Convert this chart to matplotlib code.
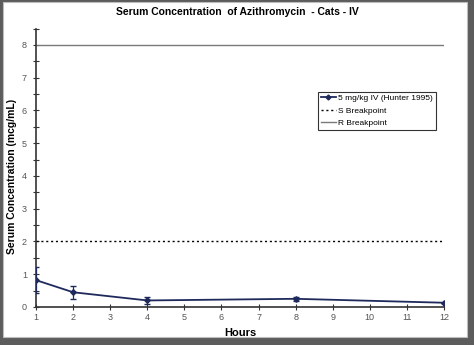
import matplotlib.pyplot as plt
from matplotlib.patches import Rectangle
from matplotlib.lines import Line2D
from matplotlib.ticker import MultipleLocator

plt.rcParams['font.family'] = ['Liberation Sans', 'DejaVu Sans']

# Serum concentration data (Hunter 1995)
hours = [1, 2, 4, 8, 12]
conc = [0.82, 0.45, 0.20, 0.25, 0.13]
conc_err = [0.40, 0.20, 0.11, 0.07, 0.0]

s_breakpoint = 2
r_breakpoint = 8

fig = plt.figure(figsize=(4.74, 3.45), dpi=100)
fig.patch.set_facecolor('#5c5c5c')
# white panel inside the dark frame
panel = Rectangle((3/474, 8/345), 464/474, 335/345, transform=fig.transFigure,
                  facecolor='white', edgecolor='#bdbdbd', lw=0.8, zorder=-10)
fig.patches.append(panel)

ax = fig.add_axes([36/474, 38/345, 408/474, 278.5/345])
ax.set_facecolor('none')

line_color = '#1f2a5c'
ax.axhline(r_breakpoint, color='#7a7a7a', lw=1.0)
ax.axhline(s_breakpoint, color='black', lw=1.0, ls=(0, (1.5, 2)))
ax.errorbar(hours, conc, yerr=conc_err, color=line_color, lw=1.3, marker='D', ms=2.8,
            capsize=2, elinewidth=0.9, zorder=5)

ax.set_xlim(1, 12)
ax.set_ylim(0, 8.5)
ax.xaxis.set_major_locator(MultipleLocator(1))
ax.yaxis.set_minor_locator(MultipleLocator(0.5))
ax.set_yticks([0, 1, 2, 3, 4, 5, 6, 7, 8])

for side in ['top', 'right']:
    ax.spines[side].set_visible(False)
for side in ['left', 'bottom']:
    ax.spines[side].set_color('#333333')
    ax.spines[side].set_linewidth(1.2)

ax.tick_params(axis='both', which='both', direction='inout', colors='#333333', labelsize=6.5,
               labelcolor='#555555', width=0.8)
ax.tick_params(axis='y', which='major', length=5, pad=4)
ax.tick_params(axis='y', which='minor', length=4)
ax.tick_params(axis='x', which='major', length=4, pad=2)

ax.set_xlabel('Hours', fontsize=8, fontweight='bold', labelpad=5)
ax.set_ylabel('Serum Concentration (mcg/mL)', fontsize=7.5, fontweight='bold')
ax.yaxis.set_label_coords(-19/408, 0.47)
fig.text(0.5, 1 - 12/345, 'Serum Concentration  of Azithromycin  - Cats - IV', ha='center', va='center',
         fontsize=7.5, fontweight='bold')

handles = [
    Line2D([], [], color=line_color, lw=1.3, marker='D', ms=2.5),
    Line2D([], [], color='black', lw=1.0, ls=(0, (1.5, 2))),
    Line2D([], [], color='#7a7a7a', lw=1.0),
]
labels = ['5 mg/kg IV (Hunter 1995)', 'S Breakpoint', 'R Breakpoint']
leg = ax.legend(handles, labels,
                loc='upper left', bbox_to_anchor=(282/408, 1 - 63/278.5),
                fontsize=6, frameon=True, fancybox=False, edgecolor='black',
                handlelength=1.8, borderpad=0.35, labelspacing=0.55, handletextpad=0.3,
                borderaxespad=0)
leg.get_frame().set_linewidth(0.8)

fig.savefig('out.png', dpi=100, facecolor=fig.get_facecolor())
